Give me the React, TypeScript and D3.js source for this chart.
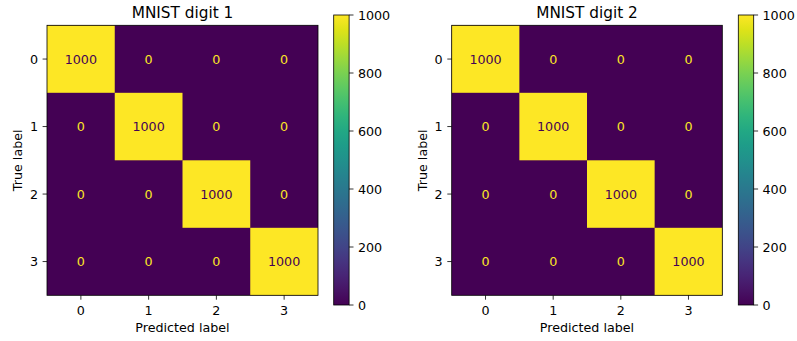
import React from "react";
import * as d3 from "d3";

const classes = ["0", "1", "2", "3"];
const titles = ["MNIST digit 1", "MNIST digit 2"];
const matrix1 = [
  [1000, 0, 0, 0],
  [0, 1000, 0, 0],
  [0, 0, 1000, 0],
  [0, 0, 0, 1000],
];
const matrix2 = [
  [1000, 0, 0, 0],
  [0, 1000, 0, 0],
  [0, 0, 1000, 0],
  [0, 0, 0, 1000],
];
const matrices = [matrix1, matrix2];
const cbarTicks = [0, 200, 400, 600, 800, 1000];

const W = 797;
const H = 341;
const FONT = "DejaVu Sans, sans-serif";
const FS = 12.7;
const TFS = 15.3;
const TICK = 4.4;

const panels = [
  { x0: 47, x1: 318, cbX: 333.7 },
  { x0: 451.7, x1: 722.3, cbX: 738.3 },
];
const mTop = 25.3;
const mBottom = 295.3;
const cbTop = 15;
const cbBottom = 305;
const cbW = 15.4;

function Panel({ idx }: { idx: number }) {
  const p = panels[idx];
  const m = matrices[idx];
  const vmax = d3.max(m.flat()) as number;
  const vmin = d3.min(m.flat()) as number;
  const x = d3.scaleBand<string>().domain(classes).range([p.x0, p.x1]);
  const y = d3.scaleBand<string>().domain(classes).range([mTop, mBottom]);
  const color = d3.scaleSequential(d3.interpolateViridis).domain([vmin, vmax]);
  const cb = d3.scaleLinear().domain([vmin, vmax]).range([cbBottom, cbTop]);
  const gid = `vgrad${idx}`;
  const stops = d3.range(0, 1.0001, 0.05);
  const cx = (p.x0 + p.x1) / 2;
  const cy = (mTop + mBottom) / 2;
  return (
    <g>
      <defs>
        <linearGradient id={gid} x1="0" y1="1" x2="0" y2="0">
          {stops.map((t) => (
            <stop key={t} offset={`${t * 100}%`} stopColor={d3.interpolateViridis(t)} />
          ))}
        </linearGradient>
      </defs>
      <rect x={p.x0} y={mTop} width={p.x1 - p.x0} height={mBottom - mTop} fill={color(vmin)} />
      {m.map((row, i) =>
        row.map((v, j) =>
          v === vmin ? null : (
            <rect
              key={`${i}-${j}`}
              x={x(classes[j])}
              y={y(classes[i])}
              width={x.bandwidth()}
              height={y.bandwidth()}
              fill={color(v)}
            />
          )
        )
      )}
      {m.map((row, i) =>
        row.map((v, j) => (
          <text
            key={`t${i}-${j}`}
            x={(x(classes[j]) as number) + x.bandwidth() / 2}
            y={(y(classes[i]) as number) + y.bandwidth() / 2}
            textAnchor="middle"
            dominantBaseline="central"
            fontSize={FS}
            fontFamily={FONT}
            fill={v > (vmin + vmax) / 2 ? "#440154" : "#fde725"}
          >
            {v}
          </text>
        ))
      )}
      <rect x={p.x0} y={mTop} width={p.x1 - p.x0} height={mBottom - mTop} fill="none" stroke="#000" strokeWidth={0.8} />
      {classes.map((c) => {
        const tx = (x(c) as number) + x.bandwidth() / 2;
        const ty = (y(c) as number) + y.bandwidth() / 2;
        return (
          <g key={`ax${c}`}>
            <line x1={tx} x2={tx} y1={mBottom} y2={mBottom + TICK} stroke="#000" strokeWidth={0.8} />
            <text x={tx} y={314.5} textAnchor="middle" fontSize={FS} fontFamily={FONT} fill="#000">{c}</text>
            <line x1={p.x0 - TICK} x2={p.x0} y1={ty} y2={ty} stroke="#000" strokeWidth={0.8} />
            <text x={p.x0 - 9} y={ty} textAnchor="end" dominantBaseline="central" fontSize={FS} fontFamily={FONT} fill="#000">{c}</text>
          </g>
        );
      })}
      <text x={cx} y={332.3} textAnchor="middle" fontSize={FS} fontFamily={FONT} fill="#000">Predicted label</text>
      <text
        transform={`translate(${p.x0 - 29.5},${cy}) rotate(-90)`}
        textAnchor="middle"
        dominantBaseline="central"
        fontSize={FS}
        fontFamily={FONT}
        fill="#000"
      >
        True label
      </text>
      <text x={cx} y={18.3} textAnchor="middle" fontSize={TFS} fontFamily={FONT} fill="#000">{titles[idx]}</text>
      <rect x={p.cbX} y={cbTop} width={cbW} height={cbBottom - cbTop} fill={`url(#${gid})`} />
      <rect x={p.cbX} y={cbTop} width={cbW} height={cbBottom - cbTop} fill="none" stroke="#000" strokeWidth={0.8} />
      {cbarTicks.map((t) => (
        <g key={`cb${t}`}>
          <line x1={p.cbX + cbW} x2={p.cbX + cbW + TICK} y1={cb(t)} y2={cb(t)} stroke="#000" strokeWidth={0.8} />
          <text x={p.cbX + cbW + 8.8} y={cb(t)} dominantBaseline="central" fontSize={FS} fontFamily={FONT} fill="#000">{t}</text>
        </g>
      ))}
    </g>
  );
}

export default function App() {
  return (
    <svg width={W} height={H} style={{ display: "block", position: "absolute", left: 0, top: 0, background: "#fff" }}>
      <rect width={W} height={H} fill="#fff" />
      <Panel idx={0} />
      <Panel idx={1} />
    </svg>
  );
}
